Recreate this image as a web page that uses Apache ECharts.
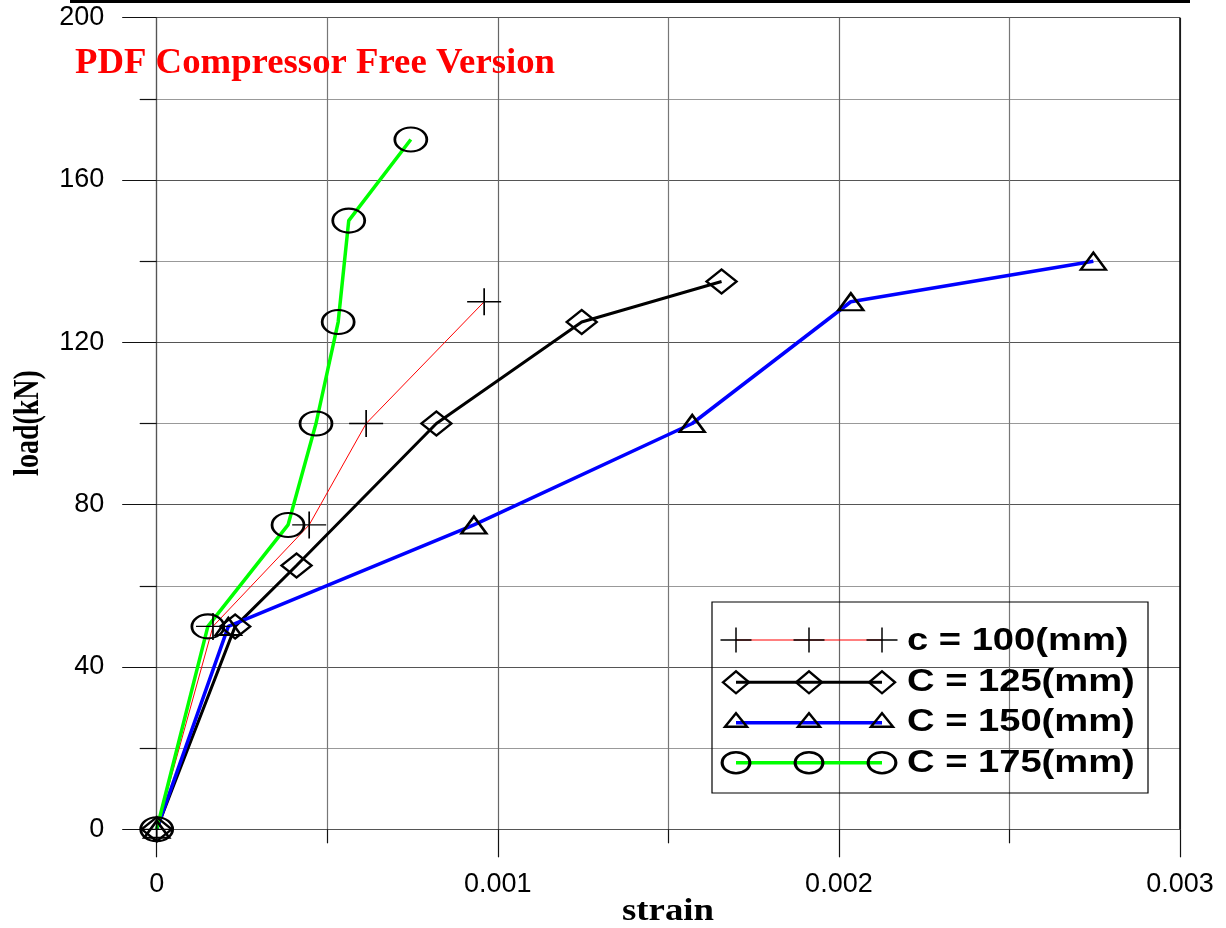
<!DOCTYPE html>
<html>
<head>
<meta charset="utf-8">
<script src="https://cdn.jsdelivr.net/npm/echarts@6/dist/echarts.min.js"></script>
<style>
  html, body { margin: 0; padding: 0; background: #fff; }
  #chart { width: 1226px; height: 928px; }
</style>
</head>
<body>
<div id="chart"></div>
<script>
// Load–strain test results for four values of C (mm)
const strain100 = [0, 0.000165, 0.000447, 0.000614, 0.00096];
const load100   = [0, 50, 75, 100, 130];

const strain125 = [0, 0.00023, 0.00041, 0.00082, 0.001246, 0.001656];
const load125   = [0, 50, 65, 100, 125, 135];

const strain150 = [0, 0.00021, 0.00093, 0.00157, 0.002035, 0.002746];
const load150   = [0, 50, 75, 100, 130, 140];

const strain175 = [0, 0.00015, 0.000385, 0.000467, 0.000532, 0.000563, 0.000745];
const load175   = [0, 50, 75, 100, 125, 150, 170];

const seriesNames = ['c = 100(mm)', 'C = 125(mm)', 'C = 150(mm)', 'C = 175(mm)'];
const xTickLabels = ['0', '0.001', '0.002', '0.003'];
const yTickLabels = ['0', '40', '80', '120', '160', '200'];

const pairs = (xs, ys) => xs.map((x, i) => [x, ys[i]]);

const PLUS = 'path://M0,13.5H34M17,0V27';
const hollow = { color: 'rgba(0,0,0,0)', borderColor: '#000', borderWidth: 2.4 };

const chart = echarts.init(document.getElementById('chart'), null, { renderer: 'canvas' });

// ---- legend drawn as graphic elements (three markers per sample line) ----
const LX = [736, 809, 882];
const legendRows = [
  { y: 640, line: { color: '#ff0000', width: 1 }, marker: 'plus' },
  { y: 682.3, line: { color: '#000', width: 3 }, marker: 'diamond' },
  { y: 722.7, line: { color: '#0000ff', width: 3.5 }, marker: 'triangle' },
  { y: 762.7, line: { color: '#00ff00', width: 3.5 }, marker: 'circle' }
];
const textY = [641, 682.5, 722.5, 763];

function markerGraphic(kind, cx, cy) {
  const st = { stroke: '#000', fill: 'none', lineWidth: 2.4 };
  if (kind === 'plus') {
    return [
      { type: 'line', shape: { x1: cx - 15.5, y1: cy, x2: cx + 15.5, y2: cy }, style: { stroke: '#000', lineWidth: 1.5 } },
      { type: 'line', shape: { x1: cx, y1: cy - 12.5, x2: cx, y2: cy + 12.5 }, style: { stroke: '#000', lineWidth: 1.5 } }
    ];
  }
  if (kind === 'diamond') {
    return [{ type: 'polygon', shape: { points: [[cx - 13, cy], [cx, cy - 11], [cx + 13, cy], [cx, cy + 11]] }, style: st }];
  }
  if (kind === 'triangle') {
    return [{ type: 'polygon', shape: { points: [[cx - 11, cy + 4], [cx, cy - 9.5], [cx + 11, cy + 4]] }, style: st }];
  }
  return [{ type: 'circle', x: cx, y: cy, scaleX: 1.32, shape: { cx: 0, cy: 0, r: 10.5 }, style: Object.assign({ strokeNoScale: true }, st) }];
}

const legendGraphics = [
  { type: 'rect', shape: { x: 712, y: 602, width: 436, height: 191 }, style: { stroke: '#000', fill: 'none', lineWidth: 1.2 }, z: 100 }
];
legendRows.forEach((row, i) => {
  legendGraphics.push({
    type: 'line', z: 100,
    shape: { x1: LX[0], y1: row.y, x2: LX[2], y2: row.y },
    style: { stroke: row.line.color, lineWidth: row.line.width }
  });
  LX.forEach(cx => markerGraphic(row.marker, cx, row.y).forEach(g => { g.z = 101; legendGraphics.push(g); }));
  legendGraphics.push({
    type: 'text', z: 101, x: 907, y: textY[i], scaleX: 1.23,
    style: {
      text: seriesNames[i], fill: '#000',
      font: 'bold 31px "Liberation Sans", Arial, sans-serif',
      align: 'left', verticalAlign: 'middle', textAlign: 'left', textVerticalAlign: 'middle'
    }
  });
});

const option = {
  animation: false,
  backgroundColor: '#fff',
  grid: { left: 156.7, right: 46, top: 17.7, bottom: 98.7, containLabel: false },
  xAxis: {
    type: 'value', min: 0, max: 0.003, interval: 0.001,
    axisLine: { show: true, onZero: false, lineStyle: { color: '#555', width: 1.2 } },
    axisTick: { show: true, length: 28, lineStyle: { color: '#111', width: 1.2 } },
    minorTick: { show: true, splitNumber: 2, length: 14, lineStyle: { color: '#111', width: 1.2 } },
    splitLine: { show: true, lineStyle: { color: '#666', width: 1.2 } },
    minorSplitLine: { show: true, lineStyle: { color: '#777', width: 1.2 } },
    axisLabel: {
      margin: 42, fontSize: 27, fontFamily: '"Liberation Sans", Arial, sans-serif', color: '#000',
      formatter: v => xTickLabels[Math.round(v / 0.001)]
    }
  },
  yAxis: {
    type: 'value', min: 0, max: 200, interval: 40,
    axisLine: { show: true, onZero: false, lineStyle: { color: '#555', width: 1.2 } },
    axisTick: { show: true, length: 34.5, lineStyle: { color: '#111', width: 1.2 } },
    minorTick: { show: true, splitNumber: 2, length: 17, lineStyle: { color: '#111', width: 1.2 } },
    splitLine: { show: true, lineStyle: { color: '#555', width: 1.2 } },
    minorSplitLine: { show: true, lineStyle: { color: '#999', width: 1.2 } },
    axisLabel: {
      margin: 52.5, fontSize: 27, fontFamily: '"Liberation Sans", Arial, sans-serif', color: '#000',
      formatter: v => yTickLabels[Math.round(v / 40)]
    }
  },
  series: [
    {
      name: seriesNames[0], type: 'line', data: pairs(strain100, load100),
      lineStyle: { color: '#ff0000', width: 1 },
      symbol: PLUS, symbolSize: [34, 27],
      itemStyle: { color: 'rgba(0,0,0,0)', borderColor: '#000', borderWidth: 1.5 }
    },
    {
      name: seriesNames[1], type: 'line', data: pairs(strain125, load125),
      lineStyle: { color: '#000', width: 3 },
      symbol: 'diamond', symbolSize: [30, 24], itemStyle: hollow
    },
    {
      name: seriesNames[2], type: 'line', data: pairs(strain150, load150),
      lineStyle: { color: '#0000ff', width: 3.5 },
      symbol: 'triangle', symbolSize: [25, 17], itemStyle: hollow
    },
    {
      name: seriesNames[3], type: 'line', data: pairs(strain175, load175),
      lineStyle: { color: '#00ff00', width: 3.5 },
      symbol: 'circle', symbolSize: [32, 24], itemStyle: hollow
    }
  ],
  graphic: [
    // heavy rule along the top edge
    { type: 'rect', shape: { x: 70, y: 0, width: 1120, height: 3 }, style: { fill: '#000' } },
    // right border of the plot area
    { type: 'line', shape: { x1: 1180, y1: 17.7, x2: 1180, y2: 829.3 }, style: { stroke: '#000', lineWidth: 1.5 }, z: 50 },
    {
      type: 'text', x: 75, y: 64, scaleX: 1.05, z: 120,
      style: {
        text: 'PDF Compressor Free Version', fill: '#ff0000',
        font: 'bold 35px "Liberation Serif", "Times New Roman", serif',
        align: 'left', verticalAlign: 'middle', textAlign: 'left', textVerticalAlign: 'middle'
      }
    },
    {
      type: 'text', x: 668, y: 912, scaleX: 1.15,
      style: {
        text: 'strain', fill: '#000',
        font: 'bold 32px "Liberation Serif", "Times New Roman", serif',
        align: 'center', verticalAlign: 'middle', textAlign: 'center', textVerticalAlign: 'middle'
      }
    },
    {
      type: 'text', x: 29, y: 423, rotation: Math.PI / 2, scaleY: 1.25,
      style: {
        text: 'load(kN)', fill: '#000',
        font: 'bold 28px "Liberation Serif", "Times New Roman", serif',
        align: 'center', verticalAlign: 'middle', textAlign: 'center', textVerticalAlign: 'middle'
      }
    }
  ].concat(legendGraphics)
};

chart.setOption(option);
</script>
</body>
</html>
